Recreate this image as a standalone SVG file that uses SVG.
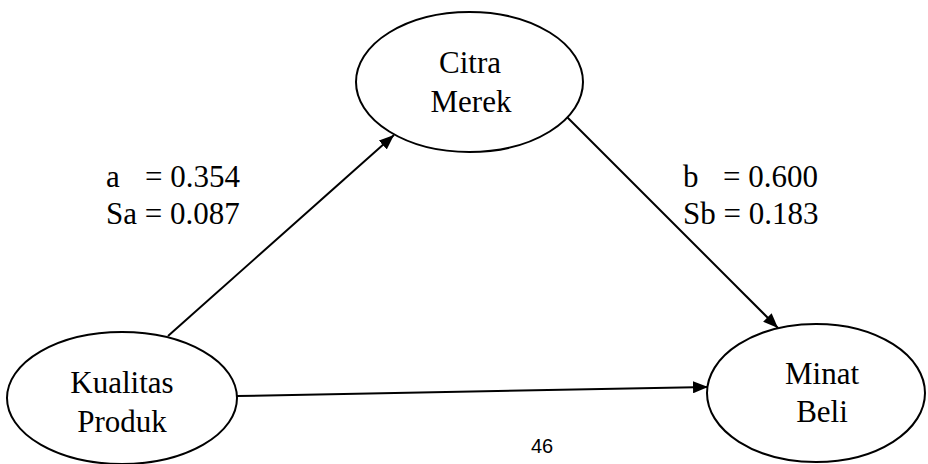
<svg xmlns="http://www.w3.org/2000/svg" width="928" height="464" viewBox="0 0 928 464">
  <style>
    .node { fill: #ffffff; stroke: #000000; stroke-width: 2; }
    .label { font-family: "Liberation Serif", "Times New Roman", serif; font-size: 31px; fill: #000000; }
    .mid { text-anchor: middle; }
    .edge { stroke: #000000; stroke-width: 2; fill: none; marker-end: url(#arrow); }
    .page { font-family: "Liberation Sans", Arial, sans-serif; font-size: 20px; fill: #000000; text-anchor: middle; }
  </style>
  <defs>
    <marker id="arrow" markerWidth="16" markerHeight="12" refX="15" refY="6" orient="auto" markerUnits="userSpaceOnUse">
      <path d="M0,0 L15,6 L0,12 Z" fill="#000000"/>
    </marker>
  </defs>

  <rect width="928" height="464" fill="#ffffff"/>

  <!-- connectors -->
  <g id="connectors">
    <line class="edge" x1="168" y1="336" x2="394" y2="135"/>
    <line class="edge" x1="567" y1="117" x2="778" y2="328"/>
    <line class="edge" x1="237" y1="396" x2="708" y2="387"/>
  </g>

  <!-- path coefficients -->
  <g id="labels">
    <text class="label" x="106" y="187">a<tspan x="145">= 0.354</tspan></text>
    <text class="label" x="106" y="224">Sa = 0.087</text>
    <text class="label" x="683" y="187">b<tspan x="723">= 0.600</tspan></text>
    <text class="label" x="683" y="224">Sb = 0.183</text>
  </g>

  <g id="citra-merek">
    <ellipse class="node" cx="469.5" cy="82" rx="113.5" ry="70"/>
    <text class="label mid" x="470" y="73">Citra</text>
    <text class="label mid" x="471" y="112">Merek</text>
  </g>

  <g id="kualitas-produk">
    <ellipse class="node" cx="122" cy="398" rx="115" ry="66"/>
    <text class="label mid" x="122" y="393">Kualitas</text>
    <text class="label mid" x="122" y="432">Produk</text>
  </g>

  <g id="minat-beli">
    <ellipse class="node" cx="816" cy="393" rx="109" ry="69"/>
    <text class="label mid" x="822" y="384">Minat</text>
    <text class="label mid" x="822" y="422">Beli</text>
  </g>

  <text class="page" x="542" y="453">46</text>
</svg>
